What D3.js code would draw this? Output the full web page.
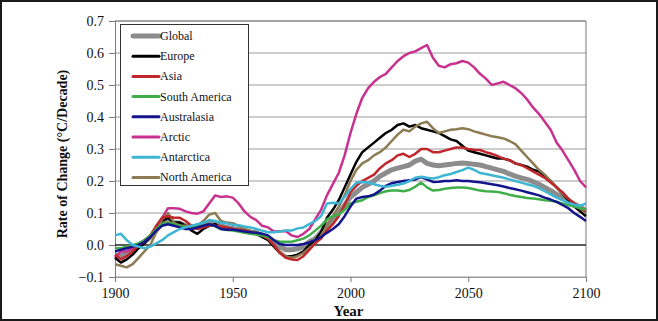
<!DOCTYPE html>
<html>
<head>
<meta charset="utf-8">
<script src="https://cdn.jsdelivr.net/npm/d3@7"></script>
<style>
  html, body { margin: 0; padding: 0; background: #fff; }
  svg { display: block; }
  text { font-family: "Liberation Serif", "Times New Roman", serif; fill: #111; }
</style>
</head>
<body>
<svg id="chart" width="658" height="321"></svg>
<script>
// Years sampled every 2.5 years, 1900–2100
const years = d3.range(0, 81).map(i => 1900 + i * 2.5);

const globalRate = [-0.03,-0.035,-0.025,-0.015,0.0,0.01,0.025,0.045,0.07,0.08,0.07,0.068,0.06,0.055,0.055,0.06,0.068,0.07,0.06,0.055,0.052,0.048,0.045,0.04,0.038,0.03,0.022,0.01,-0.005,-0.015,-0.015,-0.012,-0.005,0.01,0.02,0.04,0.06,0.08,0.1,0.125,0.15,0.165,0.18,0.19,0.2,0.215,0.225,0.235,0.24,0.245,0.25,0.262,0.268,0.255,0.25,0.248,0.25,0.252,0.255,0.256,0.255,0.252,0.25,0.245,0.24,0.235,0.23,0.222,0.215,0.21,0.205,0.198,0.19,0.18,0.17,0.158,0.148,0.138,0.128,0.118,0.108];

const europe = [-0.04,-0.055,-0.045,-0.03,-0.01,0.005,0.025,0.05,0.075,0.085,0.07,0.07,0.06,0.045,0.035,0.05,0.06,0.065,0.055,0.05,0.05,0.045,0.04,0.04,0.035,0.025,0.015,-0.005,-0.025,-0.035,-0.035,-0.03,-0.02,0.0,0.015,0.04,0.085,0.11,0.14,0.18,0.22,0.26,0.29,0.305,0.32,0.335,0.35,0.36,0.375,0.38,0.37,0.375,0.365,0.36,0.355,0.35,0.34,0.33,0.325,0.31,0.295,0.29,0.285,0.28,0.275,0.27,0.27,0.265,0.255,0.25,0.245,0.235,0.23,0.215,0.2,0.18,0.16,0.14,0.12,0.105,0.09];

const asia = [-0.03,-0.045,-0.035,-0.02,0.0,0.01,0.03,0.06,0.085,0.09,0.085,0.085,0.075,0.06,0.05,0.055,0.06,0.06,0.058,0.055,0.05,0.048,0.045,0.04,0.035,0.03,0.02,0.0,-0.025,-0.04,-0.045,-0.047,-0.035,-0.015,0.005,0.02,0.045,0.065,0.09,0.125,0.165,0.185,0.2,0.21,0.22,0.24,0.255,0.265,0.28,0.285,0.275,0.285,0.3,0.3,0.29,0.29,0.295,0.3,0.305,0.305,0.3,0.298,0.297,0.29,0.285,0.278,0.27,0.265,0.255,0.25,0.24,0.23,0.22,0.21,0.195,0.18,0.165,0.145,0.13,0.115,0.105];

const southAmerica = [-0.01,-0.01,-0.005,0.0,0.005,0.015,0.03,0.05,0.065,0.07,0.065,0.06,0.055,0.055,0.06,0.062,0.065,0.058,0.05,0.047,0.045,0.042,0.038,0.035,0.033,0.03,0.025,0.015,0.01,0.01,0.01,0.015,0.02,0.03,0.045,0.06,0.08,0.09,0.095,0.11,0.13,0.135,0.14,0.15,0.155,0.162,0.168,0.17,0.17,0.168,0.172,0.182,0.195,0.18,0.17,0.172,0.176,0.178,0.18,0.18,0.178,0.174,0.17,0.168,0.167,0.166,0.162,0.157,0.153,0.15,0.147,0.145,0.143,0.14,0.138,0.135,0.13,0.125,0.12,0.115,0.11];

const australasia = [-0.02,-0.015,-0.01,-0.005,0.0,0.01,0.025,0.045,0.06,0.065,0.06,0.055,0.05,0.05,0.055,0.06,0.065,0.06,0.05,0.048,0.048,0.045,0.042,0.04,0.038,0.035,0.03,0.015,0.003,0.0,0.0,0.0,0.003,0.008,0.015,0.025,0.038,0.05,0.065,0.09,0.12,0.145,0.15,0.152,0.158,0.17,0.185,0.193,0.197,0.2,0.202,0.205,0.212,0.205,0.197,0.198,0.2,0.2,0.202,0.2,0.2,0.198,0.196,0.193,0.19,0.187,0.183,0.178,0.174,0.17,0.165,0.16,0.155,0.148,0.142,0.135,0.125,0.115,0.1,0.088,0.075];

const arctic = [-0.04,-0.02,-0.02,-0.01,0.0,0.015,0.025,0.05,0.085,0.115,0.115,0.113,0.105,0.1,0.098,0.105,0.13,0.155,0.15,0.152,0.148,0.13,0.105,0.088,0.078,0.06,0.055,0.042,0.043,0.044,0.03,0.025,0.035,0.05,0.08,0.11,0.155,0.19,0.225,0.28,0.35,0.41,0.46,0.49,0.51,0.525,0.535,0.555,0.575,0.59,0.6,0.605,0.615,0.625,0.585,0.56,0.555,0.565,0.568,0.575,0.57,0.555,0.535,0.52,0.5,0.505,0.51,0.5,0.49,0.475,0.455,0.43,0.41,0.385,0.36,0.32,0.295,0.265,0.235,0.2,0.18];

const antarctica = [0.03,0.035,0.015,0.0,-0.005,-0.01,-0.005,0.005,0.015,0.03,0.04,0.05,0.055,0.06,0.065,0.07,0.078,0.075,0.07,0.068,0.063,0.062,0.058,0.055,0.05,0.045,0.04,0.04,0.042,0.045,0.045,0.052,0.055,0.065,0.075,0.09,0.13,0.132,0.13,0.15,0.175,0.195,0.197,0.195,0.19,0.185,0.182,0.185,0.188,0.192,0.2,0.21,0.213,0.21,0.208,0.212,0.218,0.222,0.228,0.234,0.242,0.235,0.225,0.222,0.218,0.214,0.21,0.205,0.2,0.195,0.19,0.185,0.178,0.168,0.158,0.148,0.14,0.132,0.126,0.122,0.13];

const northAmerica = [-0.06,-0.065,-0.07,-0.06,-0.04,-0.02,0.0,0.04,0.08,0.1,0.07,0.06,0.06,0.06,0.06,0.075,0.095,0.1,0.075,0.07,0.068,0.06,0.05,0.045,0.04,0.03,0.02,0.0,-0.02,-0.035,-0.04,-0.035,-0.025,-0.01,0.005,0.03,0.06,0.09,0.12,0.155,0.2,0.235,0.255,0.265,0.28,0.29,0.305,0.325,0.345,0.36,0.355,0.37,0.38,0.385,0.365,0.35,0.355,0.36,0.362,0.365,0.362,0.355,0.35,0.345,0.34,0.337,0.333,0.325,0.315,0.295,0.275,0.255,0.235,0.22,0.2,0.18,0.16,0.145,0.13,0.115,0.1];

const seriesNames = ["Global","Europe","Asia","South America","Australasia","Arctic","Antarctica","North America"];
const seriesValues = [globalRate, europe, asia, southAmerica, australasia, arctic, antarctica, northAmerica];
const seriesColors = ["#8c8c8c","#000000","#c0272d","#3fae49","#14148c","#c8318f","#3db5d3","#8c7b53"];
const seriesWidths = [5, 2.5, 2.5, 2.5, 2.5, 2.5, 2.5, 2.5];

const yTicks = [-0.1, 0.0, 0.1, 0.2, 0.3, 0.4, 0.5, 0.6, 0.7];
const xTicks = [1900, 1950, 2000, 2050, 2100];

const svg = d3.select("#chart");
const W = 658, H = 321;
const plot = { left: 115, right: 586, top: 21, bottom: 277 };

const x = d3.scaleLinear().domain([1900, 2100]).range([plot.left, plot.right]);
const y = d3.scaleLinear().domain([-0.1, 0.7]).range([plot.bottom, plot.top]);

// outer frame
svg.append("rect").attr("x", 1).attr("y", 1).attr("width", W - 2).attr("height", H - 2)
  .attr("fill", "#fff").attr("stroke", "#1a1a1a").attr("stroke-width", 2);

// horizontal gridlines
svg.append("g").selectAll("line").data(yTicks.filter(t => t !== 0)).join("line")
  .attr("x1", plot.left).attr("x2", plot.right)
  .attr("y1", d => y(d)).attr("y2", d => y(d))
  .attr("stroke", "#9a9a9a").attr("stroke-width", 1);

// plot border (right and top)
svg.append("path")
  .attr("d", `M${plot.left},${plot.top}H${plot.right}V${plot.bottom}`)
  .attr("fill", "none").attr("stroke", "#7a7a7a").attr("stroke-width", 1);

// y axis
const yAxis = d3.axisLeft(y).tickValues(yTicks).tickSize(6).tickPadding(5)
  .tickFormat(d3.format(".1f"));
const gy = svg.append("g").attr("transform", `translate(${plot.left},0)`).call(yAxis);
gy.select(".domain").attr("stroke", "#7a7a7a");
gy.selectAll(".tick line").attr("stroke", "#7a7a7a");
gy.selectAll(".tick text").attr("font-size", 14)
  .attr("font-family", "Liberation Serif, Times New Roman, serif").attr("fill", "#111");

// x axis at the bottom of the plot
const xAxis = d3.axisBottom(x).tickValues(xTicks).tickSize(5).tickPadding(6)
  .tickFormat(d3.format("d"));
const gx = svg.append("g").attr("transform", `translate(0,${plot.bottom})`).call(xAxis);
gx.select(".domain").attr("stroke", "#9a9a9a");
gx.selectAll(".tick line").attr("stroke", "#7a7a7a");
gx.selectAll(".tick text").attr("font-size", 14)
  .attr("font-family", "Liberation Serif, Times New Roman, serif").attr("fill", "#111");

// zero line
svg.append("line")
  .attr("x1", plot.left).attr("x2", plot.right)
  .attr("y1", y(0)).attr("y2", y(0))
  .attr("stroke", "#222").attr("stroke-width", 1.3);

// series lines
const line = d3.line().x((d, i) => x(years[i])).y(d => y(d));
const order = [0, 5, 1, 7, 2, 3, 4, 6];
svg.append("g").selectAll("path").data(order).join("path")
  .attr("d", k => line(seriesValues[k]))
  .attr("fill", "none")
  .attr("stroke", k => seriesColors[k])
  .attr("stroke-width", k => seriesWidths[k])
  .attr("stroke-linejoin", "round");

// axis titles
svg.append("text")
  .attr("transform", `translate(67,${(plot.top + plot.bottom) / 2 + 5}) rotate(-90)`)
  .attr("text-anchor", "middle").attr("font-size", 14).attr("font-weight", "bold")
  .text("Rate of Change (°C/Decade)");
svg.append("text")
  .attr("x", x(2000) - 2).attr("y", 316)
  .attr("text-anchor", "middle").attr("font-size", 15).attr("font-weight", "bold")
  .text("Year");

// legend
const legend = svg.append("g");
legend.append("rect").attr("x", 120.5).attr("y", 24.5).attr("width", 128).attr("height", 161)
  .attr("fill", "#fff").attr("stroke", "#333").attr("stroke-width", 1);
const items = legend.selectAll("g.item").data(seriesNames).join("g")
  .attr("class", "item")
  .attr("transform", (d, i) => `translate(0,${36 + i * 20.2})`);
items.append("line")
  .attr("x1", 133).attr("x2", 159).attr("y1", 0).attr("y2", 0)
  .attr("stroke", (d, i) => seriesColors[i])
  .attr("stroke-width", (d, i) => i === 0 ? 5 : 3)
  .attr("stroke-linecap", "round");
items.append("text")
  .attr("x", 160).attr("y", 4)
  .attr("font-size", 12)
  .text(d => d);
</script>
</body>
</html>
